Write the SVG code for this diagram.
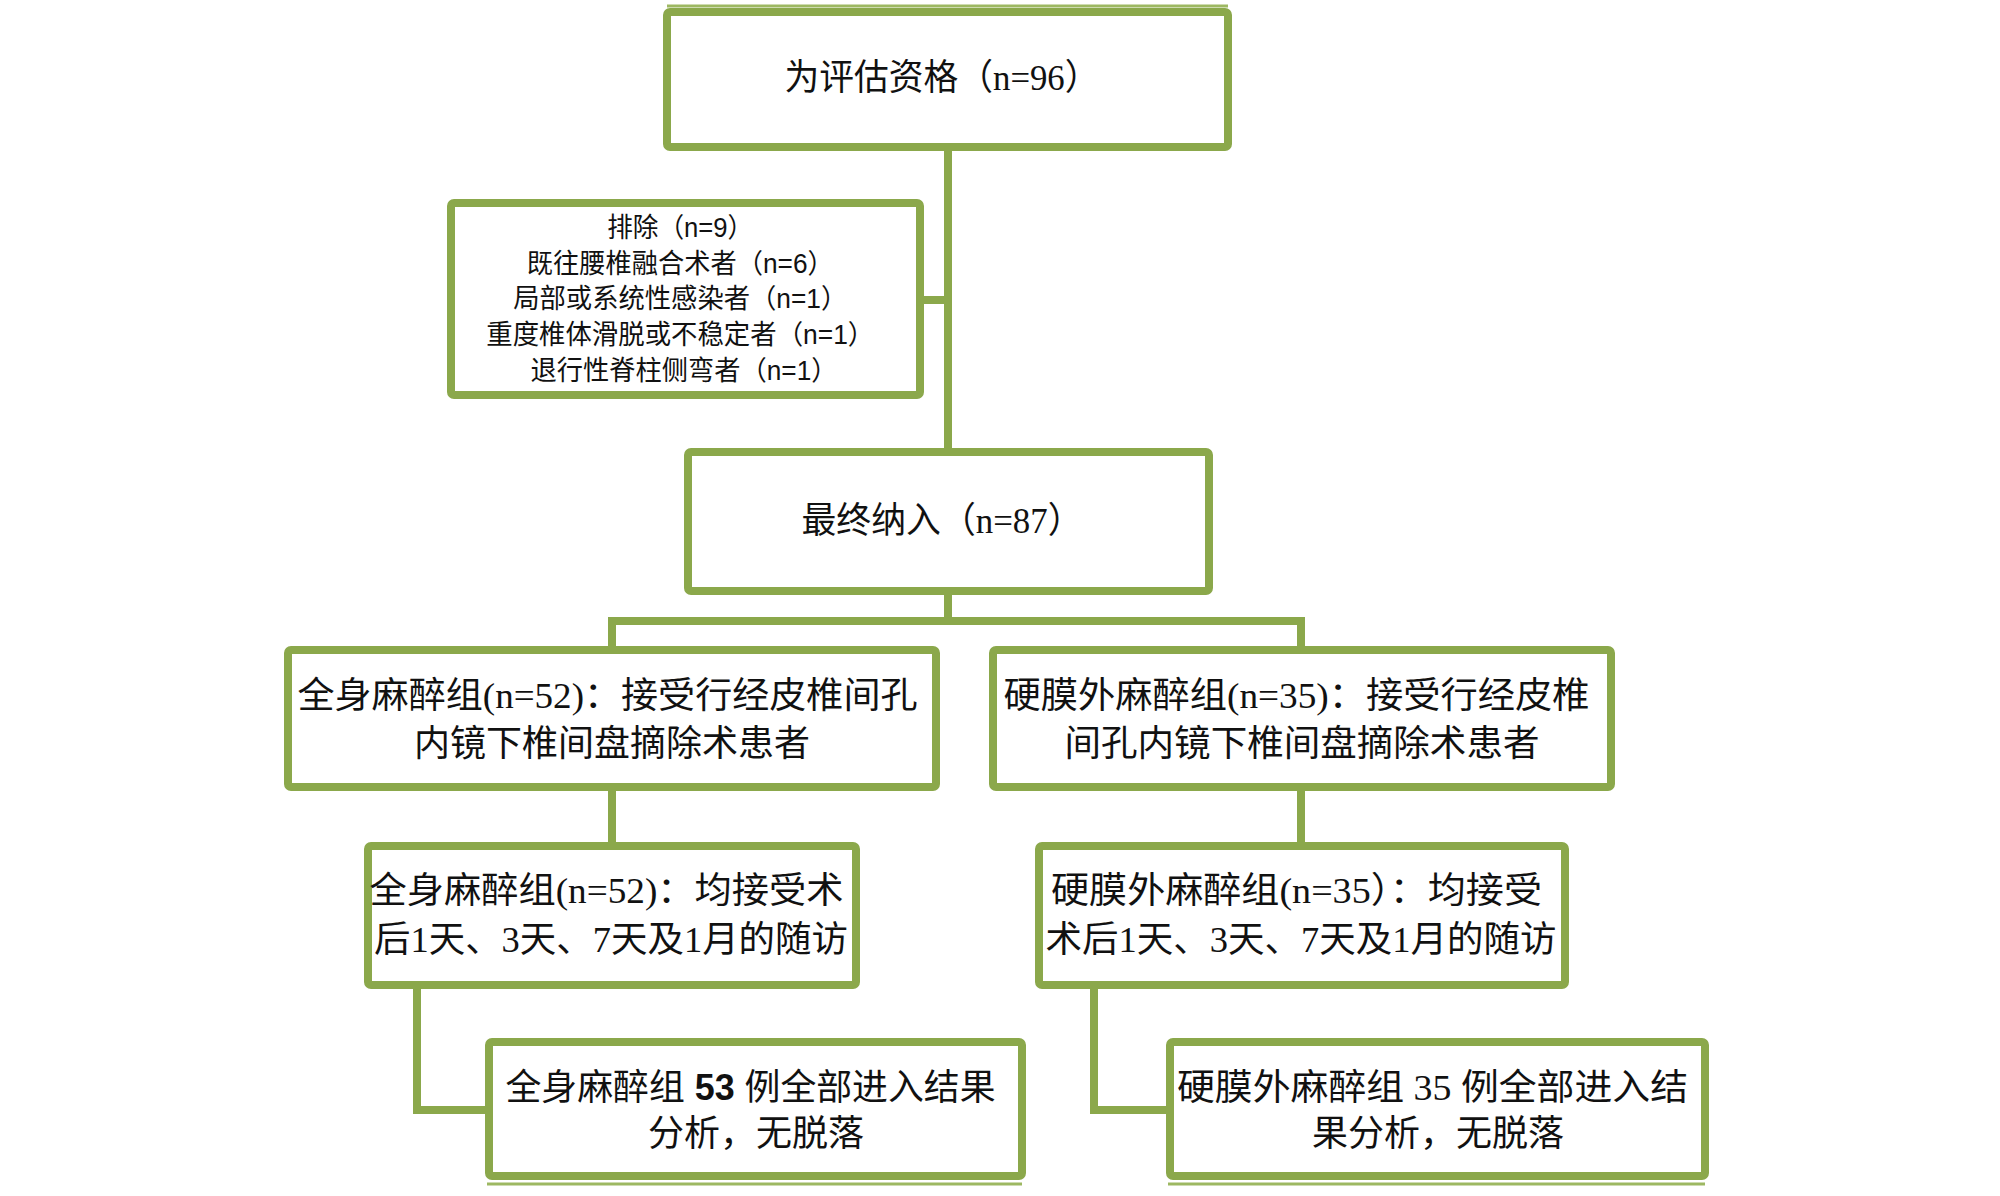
<svg xmlns="http://www.w3.org/2000/svg" width="2000" height="1196" viewBox="0 0 2000 1196">
<style>
.box{fill:#ffffff;stroke:#8ba84b;stroke-width:8}
.thin{stroke:#9db862;stroke-width:3;fill:none}
.conn{stroke:#8ba84b;stroke-width:8;fill:none;stroke-linejoin:miter}
.t{font-family:"Liberation Serif","Noto Sans CJK SC",serif;fill:#111;text-anchor:middle}
.s{font-family:"Liberation Sans","Noto Sans CJK SC",sans-serif;fill:#111;text-anchor:middle}
</style>
<rect width="2000" height="1196" fill="#ffffff"/>
<g id="connectors">
<path class="conn" d="M948 147 V450"/>
<path class="conn" d="M920 300 H948"/>
<path class="conn" d="M948 591 V621 M612 648 V621 H1301 V648"/>
<path class="conn" d="M612 787 V844"/>
<path class="conn" d="M1301 787 V844"/>
<path class="conn" d="M417 985 V1110 H489"/>
<path class="conn" d="M1094 985 V1110 H1170"/>
</g>
<g id="n1">
<line class="thin" x1="667" y1="6" x2="1228" y2="6"/>
<rect class="box" x="667" y="12" width="561" height="135" rx="3"/>
<text class="t" x="942" y="90" font-size="36" textLength="315" lengthAdjust="spacingAndGlyphs">为评估资格（n=96）</text>
</g>
<g id="n2">
<rect class="box" x="451" y="203" width="469" height="192" rx="3"/>
<text class="s" font-size="27">
<tspan x="684" y="237" textLength="146" lengthAdjust="spacingAndGlyphs">排除（n=9）</tspan>
<tspan x="684" y="273" textLength="307" lengthAdjust="spacingAndGlyphs">既往腰椎融合术者（n=6）</tspan>
<tspan x="684" y="308" textLength="334" lengthAdjust="spacingAndGlyphs">局部或系统性感染者（n=1）</tspan>
<tspan x="684" y="344" textLength="388" lengthAdjust="spacingAndGlyphs">重度椎体滑脱或不稳定者（n=1）</tspan>
<tspan x="684" y="380" textLength="307" lengthAdjust="spacingAndGlyphs">退行性脊柱侧弯者（n=1）</tspan>
</text>
</g>
<g id="n3">
<rect class="box" x="688" y="452" width="521" height="139" rx="3"/>
<text class="t" x="942" y="533" font-size="36" textLength="281" lengthAdjust="spacingAndGlyphs">最终纳入（n=87）</text>
</g>
<g id="n4">
<rect class="box" x="288" y="650" width="648" height="137" rx="3"/>
<text class="t" font-size="36">
<tspan x="612" y="708" textLength="620" lengthAdjust="spacingAndGlyphs">全身麻醉组(n=52)：接受行经皮椎间孔</tspan>
<tspan x="612" y="756">内镜下椎间盘摘除术患者</tspan>
</text>
</g>
<g id="n5">
<rect class="box" x="993" y="650" width="618" height="137" rx="3"/>
<text class="t" font-size="36">
<tspan x="1301" y="708" textLength="586" lengthAdjust="spacingAndGlyphs">硬膜外麻醉组(n=35)：接受行经皮椎</tspan>
<tspan x="1302" y="756" textLength="475" lengthAdjust="spacingAndGlyphs">间孔内镜下椎间盘摘除术患者</tspan>
</text>
</g>
<g id="n6">
<rect class="box" x="368" y="846" width="488" height="139" rx="3"/>
<text class="t" font-size="36">
<tspan x="611" y="903" textLength="474" lengthAdjust="spacingAndGlyphs">全身麻醉组(n=52)：均接受术</tspan>
<tspan x="611" y="952" textLength="474" lengthAdjust="spacingAndGlyphs">后1天、3天、7天及1月的随访</tspan>
</text>
</g>
<g id="n7">
<rect class="box" x="1039" y="846" width="526" height="139" rx="3"/>
<text class="t" font-size="36">
<tspan x="1301" y="903" textLength="491" lengthAdjust="spacingAndGlyphs">硬膜外麻醉组(n=35）：均接受</tspan>
<tspan x="1301" y="952" textLength="511" lengthAdjust="spacingAndGlyphs">术后1天、3天、7天及1月的随访</tspan>
</text>
</g>
<g id="n8">
<rect class="box" x="489" y="1042" width="533" height="134" rx="3"/>
<line class="thin" x1="487" y1="1184" x2="1022" y2="1184"/>
<text class="t" font-size="36">
<tspan x="755" y="1100" textLength="490" lengthAdjust="spacingAndGlyphs">全身麻醉组<tspan font-family="Liberation Sans, sans-serif" font-weight="bold"> 53 </tspan>例全部进入结果</tspan>
<tspan x="756" y="1146">分析，无脱落</tspan>
</text>
</g>
<g id="n9">
<rect class="box" x="1170" y="1042" width="535" height="134" rx="3"/>
<line class="thin" x1="1168" y1="1184" x2="1705" y2="1184"/>
<text class="t" font-size="36">
<tspan x="1437" y="1100" textLength="511" lengthAdjust="spacingAndGlyphs">硬膜外麻醉组 35 例全部进入结</tspan>
<tspan x="1438" y="1146">果分析，无脱落</tspan>
</text>
</g>
</svg>
